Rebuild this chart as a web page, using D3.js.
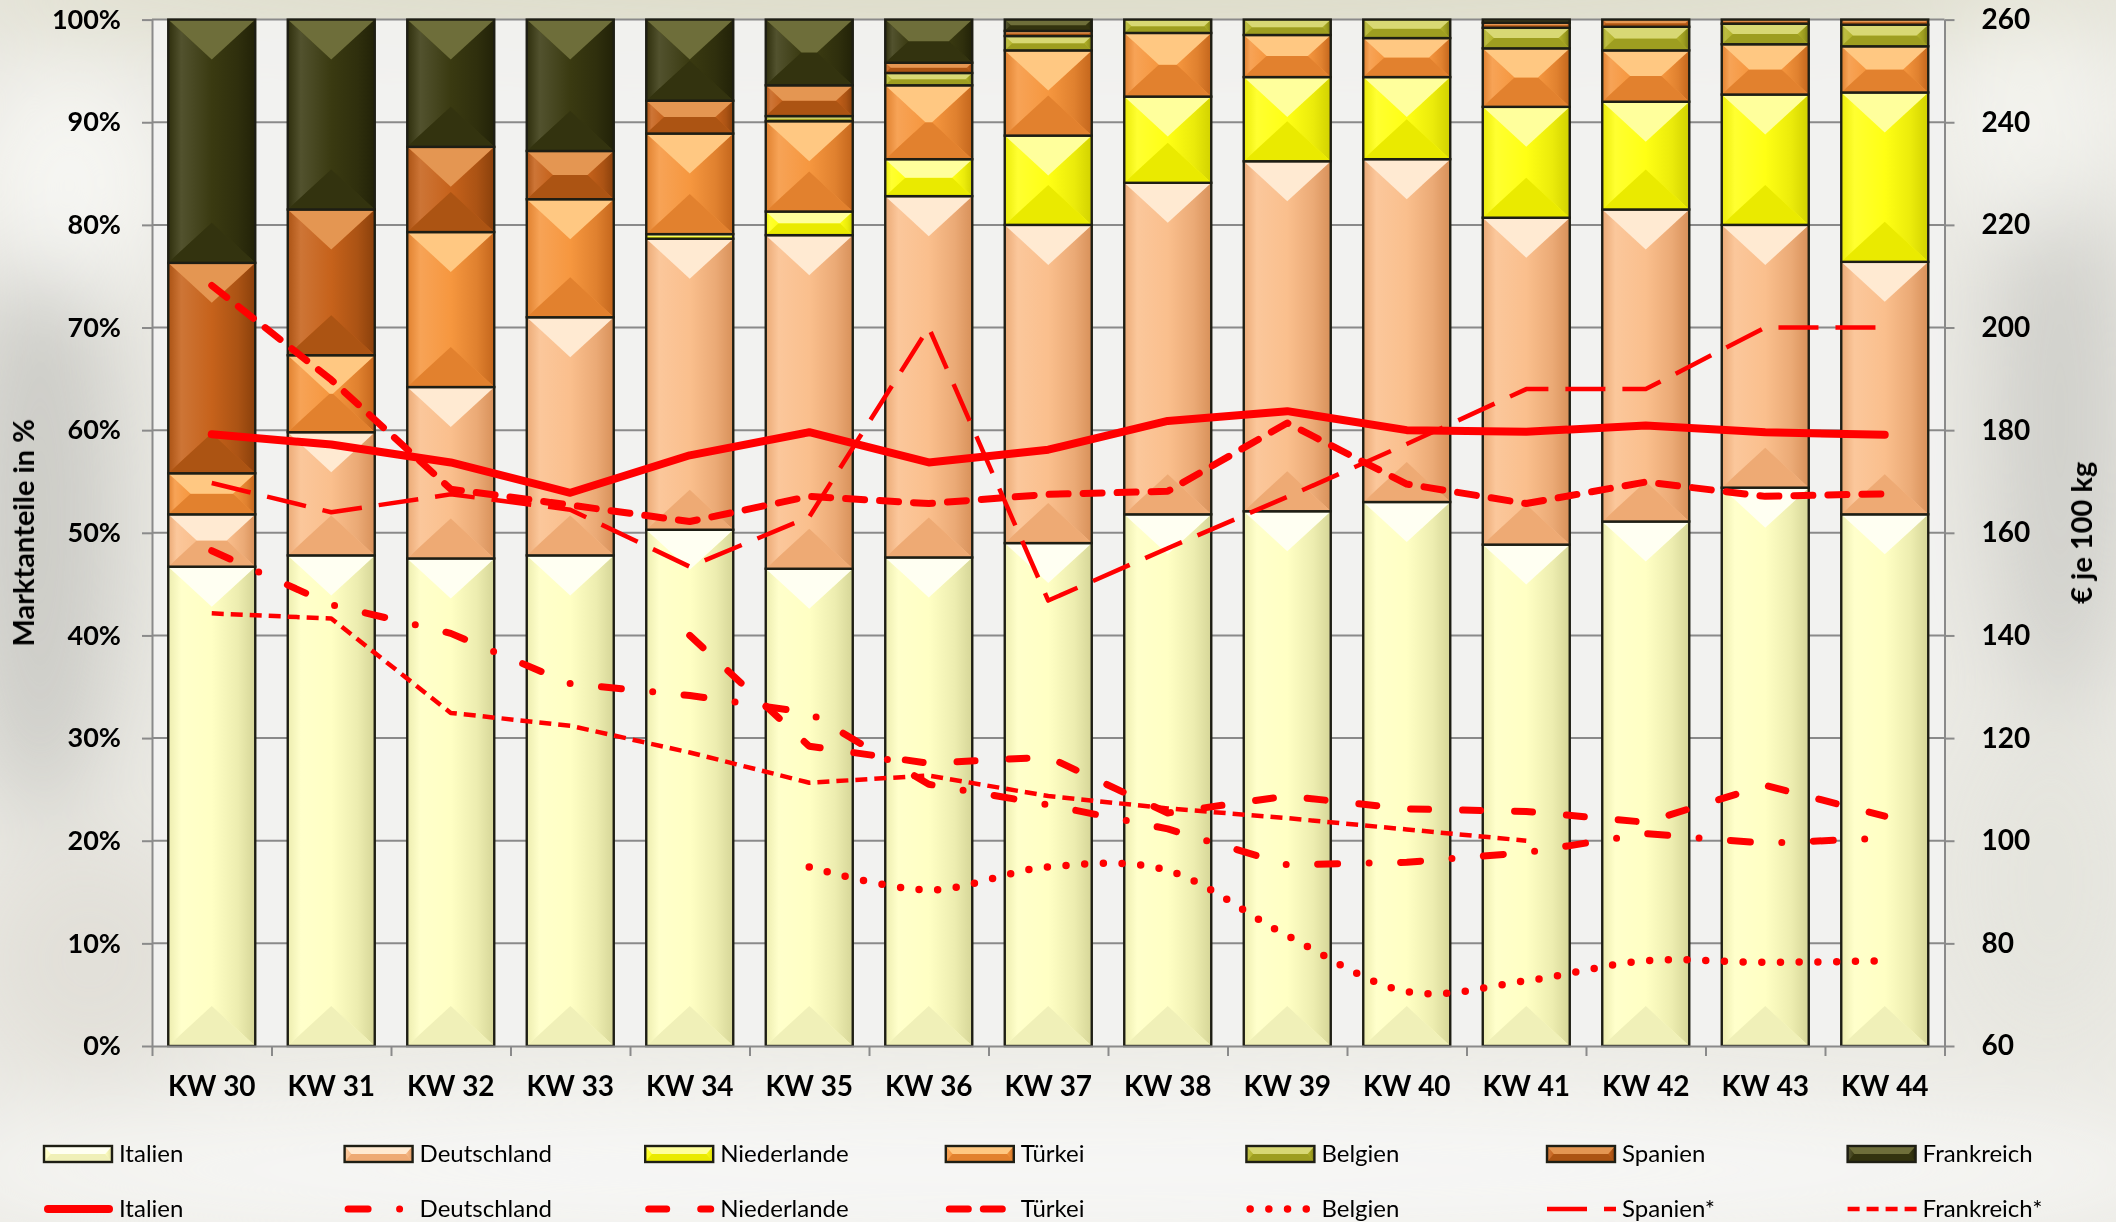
<!DOCTYPE html>
<html>
<head>
<meta charset="utf-8">
<script src="https://cdn.jsdelivr.net/npm/d3@7"></script>
<style>
  html, body { margin: 0; padding: 0; background: #ecebe6; }
  svg { display: block; }
  text { font-family: Lato, "Open Sans", "Noto Sans", sans-serif; fill: #000; }
</style>
</head>
<body>
<svg id="chart" width="2116" height="1222"></svg>
<script>
// ---- Data -------------------------------------------------------------
const weeks = ["KW 30", "KW 31", "KW 32", "KW 33", "KW 34", "KW 35", "KW 36", "KW 37",
               "KW 38", "KW 39", "KW 40", "KW 41", "KW 42", "KW 43", "KW 44"];

// market shares in % (stacked bars, bottom to top)
const italienShare     = [46.7, 47.8, 47.5, 47.8, 50.3, 46.5, 47.6, 49.0, 51.8, 52.1, 53.0, 48.85, 51.1, 54.4, 51.8];
const deutschlandShare = [5.1, 12.0, 16.7, 23.2, 28.35, 32.5, 35.2, 31.0, 32.3, 34.1, 33.4, 31.85, 30.4, 25.6, 24.6];
const niederlandeShare = [0, 0, 0, 0, 0.45, 2.3, 3.6, 8.7, 8.4, 8.2, 8.0, 10.8, 10.5, 12.7, 16.5];
const tuerkeiShare     = [4.0, 7.5, 15.1, 11.5, 9.8, 8.8, 7.2, 8.3, 6.2, 4.1, 3.8, 5.7, 5.0, 4.9, 4.5];
const belgienShare     = [0, 0, 0, 0, 0, 0.5, 1.2, 1.4, 1.3, 1.5, 1.8, 2.0, 2.3, 2.0, 2.1];
const spanienShare     = [20.5, 14.2, 8.3, 4.7, 3.2, 3.0, 1.0, 0.5, 0, 0, 0, 0.5, 0.7, 0.4, 0.5];
const frankreichShare  = [23.7, 18.5, 12.4, 12.8, 7.9, 6.4, 4.2, 1.1, 0, 0, 0, 0.3, 0, 0, 0];

// prices in € je 100 kg (right axis)
const italienPrice     = [179.2, 177.2, 173.7, 167.8, 175.1, 179.6, 173.7, 176.2, 181.8, 183.7, 180.0, 179.7, 180.9, 179.6, 179.1];
const deutschlandPrice = [156.5, 146.0, 140.4, 130.6, 128.3, 124.9, 111.0, 107.0, 102.3, 95.3, 95.8, 97.7, 101.4, 99.5, 100.5];
const niederlandePrice = [null, null, null, null, 140.0, 118.4, 115.1, 116.3, 105.4, 108.7, 106.2, 105.7, 103.6, 110.8, 104.8];
const tuerkeiPrice     = [208.2, 189.8, 168.5, 165.4, 162.2, 167.1, 165.7, 167.5, 168.1, 181.4, 169.5, 165.7, 169.9, 167.1, 167.6];
const belgienPrice     = [null, null, null, null, null, 94.9, 90.4, 94.9, 94.2, 81.5, 70.6, 72.7, 76.6, 76.3, 76.6];
const spanienPrice     = [169.7, 164.0, 167.5, 164.5, 153.4, 163.1, 200.0, 146.8, 157.0, 167.0, 177.3, 188.0, 188.0, 200.0, 200.0];
const frankreichPrice  = [144.3, 143.3, 124.9, 122.4, 117.2, 111.3, 112.7, 108.7, 106.3, 104.4, 102.2, 100.0, null, null, null];

const shareTicks = [0, 10, 20, 30, 40, 50, 60, 70, 80, 90, 100];
const priceTicks = [60, 80, 100, 120, 140, 160, 180, 200, 220, 240, 260];

const barSeries = ["Italien", "Deutschland", "Niederlande", "Türkei", "Belgien", "Spanien", "Frankreich"];
const barShares = [italienShare, deutschlandShare, niederlandeShare, tuerkeiShare, belgienShare, spanienShare, frankreichShare];
const lineSeries = ["Italien", "Deutschland", "Niederlande", "Türkei", "Belgien", "Spanien*", "Frankreich*"];
const linePrices = [italienPrice, deutschlandPrice, niederlandePrice, tuerkeiPrice, belgienPrice, spanienPrice, frankreichPrice];

// ---- Styles -----------------------------------------------------------
// base, edge (shaded side), top facet, bottom facet
const barColors = {
  "Italien":     { base: "#ffffc4", edge: "#d6d698", top: "#fffff2", bottom: "#f0f0b8" },
  "Deutschland": { base: "#fabf8d", edge: "#d8915a", top: "#ffead2", bottom: "#eeaa74" },
  "Niederlande": { base: "#ffff14", edge: "#d2d200", top: "#ffff9c", bottom: "#eaea00" },
  "Türkei":      { base: "#f6973f", edge: "#c4661c", top: "#ffc882", bottom: "#e2812e" },
  "Belgien":     { base: "#b4b42a", edge: "#7a7a12", top: "#d8d874", bottom: "#9e9e20" },
  "Spanien":     { base: "#c6621b", edge: "#8a400b", top: "#e49652", bottom: "#ac5413" },
  "Frankreich":  { base: "#3a3a11", edge: "#222208", top: "#6e6e3a", bottom: "#33330f" }
};
const red = "#ff0000";
const lineStyles = {
  "Italien":     { width: 8,   dash: null,              cap: "round", curve: d3.curveLinear },
  "Deutschland": { width: 7,   dash: "20,31.5,0,31.5",  cap: "round", curve: d3.curveLinear },
  "Niederlande": { width: 7,   dash: "18,34",           cap: "round", curve: d3.curveLinear },
  "Türkei":      { width: 7,   dash: "19,15",           cap: "round", curve: d3.curveLinear },
  "Belgien":     { width: 7.5, dash: "0,18.7",          cap: "round", curve: d3.curveCatmullRom.alpha(0) },
  "Spanien*":    { width: 4.5, dash: "40,17",           cap: "butt",  curve: d3.curveLinear },
  "Frankreich*": { width: 4.5, dash: "12,7",            cap: "butt",  curve: d3.curveLinear }
};

// ---- Layout -----------------------------------------------------------
const W = 2116, H = 1222;
const plot = { left: 152, right: 1944.5, top: 19.6, bottom: 1046 };

const svg = d3.select("#chart");
const defs = svg.append("defs");

// soft photographic backdrop
const blur = defs.append("filter").attr("id", "soft").attr("x", "-50%").attr("y", "-50%")
  .attr("width", "200%").attr("height", "200%");
blur.append("feGaussianBlur").attr("stdDeviation", 45);

svg.append("rect").attr("width", W).attr("height", H).attr("fill", "#ebeae4");
const bg = svg.append("g").attr("filter", "url(#soft)");
[
  { cx: 1050, cy: -10, rx: 1150, ry: 55, fill: "#d9d8c2", op: 0.9 },
  { cx: 40, cy: 520, rx: 80, ry: 300, fill: "#c4c4bf", op: 0.8 },
  { cx: 70, cy: 180, rx: 90, ry: 110, fill: "#f7f7f4", op: 0.9 },
  { cx: 90, cy: 960, rx: 120, ry: 120, fill: "#dedcd4", op: 0.7 },
  { cx: 2060, cy: 420, rx: 70, ry: 300, fill: "#c9c9c4", op: 0.8 },
  { cx: 2030, cy: 120, rx: 90, ry: 110, fill: "#f4f4f0", op: 0.9 },
  { cx: 2050, cy: 880, rx: 90, ry: 160, fill: "#e4e3dc", op: 0.8 },
  { cx: 1058, cy: 1170, rx: 1150, ry: 90, fill: "#f6f6f4", op: 1 }
].forEach(b => bg.append("ellipse").attr("cx", b.cx).attr("cy", b.cy).attr("rx", b.rx)
  .attr("ry", b.ry).attr("fill", b.fill).attr("opacity", b.op));

// ---- Scales -----------------------------------------------------------
const x = d3.scaleBand().domain(weeks).range([plot.left, plot.right])
  .paddingInner(0.272).paddingOuter(0.136);
const xEdge = d3.scaleLinear().domain([0, weeks.length]).range([plot.left, plot.right]);
const yL = d3.scaleLinear().domain([0, 100]).range([plot.bottom, plot.top]);
const yR = d3.scaleLinear().domain([60, 260]).range([plot.bottom, plot.top]);

// plot area
svg.append("rect").attr("x", plot.left).attr("y", plot.top)
  .attr("width", plot.right - plot.left).attr("height", plot.bottom - plot.top)
  .attr("fill", "#f3f3f1").attr("opacity", 0.88);

// gridlines
svg.append("g").selectAll("line").data(shareTicks.filter(t => t > 0)).join("line")
  .attr("x1", plot.left).attr("x2", plot.right)
  .attr("y1", d => yL(d)).attr("y2", d => yL(d))
  .attr("stroke", "#8a8a8a").attr("stroke-width", 2);

// ---- Bevelled stacked bars ---------------------------------------------
barSeries.forEach((name, i) => {
  const c = barColors[name];
  const lg = defs.append("linearGradient").attr("id", "lg" + i).attr("x1", 0).attr("x2", 1).attr("y1", 0).attr("y2", 0);
  lg.append("stop").attr("offset", 0).attr("stop-color", d3.interpolateRgb(c.base, c.edge)(0.45));
  lg.append("stop").attr("offset", 0.3).attr("stop-color", d3.interpolateRgb(c.base, "#fff")(0.12));
  lg.append("stop").attr("offset", 1).attr("stop-color", c.base);
  const rg = defs.append("linearGradient").attr("id", "rg" + i).attr("x1", 0).attr("x2", 1).attr("y1", 0).attr("y2", 0);
  rg.append("stop").attr("offset", 0).attr("stop-color", c.base);
  rg.append("stop").attr("offset", 0.6).attr("stop-color", d3.interpolateRgb(c.base, c.edge)(0.45));
  rg.append("stop").attr("offset", 1).attr("stop-color", c.edge);
});

function bevel(g, bx, by, bw, bh, idx, depthMax) {
  const c = barColors[barSeries[idx]];
  const dv = Math.min(depthMax, bh / 2);
  const dh = dv * (bw / 2) / depthMax;
  const pts = a => a.map(p => p.join(",")).join(" ");
  g.append("rect").attr("x", bx).attr("y", by).attr("width", bw).attr("height", bh).attr("fill", c.base);
  g.append("polygon").attr("points", pts([[bx, by], [bx + dh, by + dv], [bx + dh, by + bh - dv], [bx, by + bh]]))
    .attr("fill", `url(#lg${idx})`);
  g.append("polygon").attr("points", pts([[bx + bw, by], [bx + bw - dh, by + dv], [bx + bw - dh, by + bh - dv], [bx + bw, by + bh]]))
    .attr("fill", `url(#rg${idx})`);
  g.append("polygon").attr("points", pts([[bx, by + bh], [bx + bw, by + bh], [bx + bw - dh, by + bh - dv], [bx + dh, by + bh - dv]]))
    .attr("fill", c.bottom);
  g.append("polygon").attr("points", pts([[bx, by], [bx + bw, by], [bx + bw - dh, by + dv], [bx + dh, by + dv]]))
    .attr("fill", c.top);
  g.append("rect").attr("x", bx).attr("y", by).attr("width", bw).attr("height", bh)
    .attr("fill", "none").attr("stroke", "#1e1e14").attr("stroke-width", 2.4);
}

const rows = weeks.map((w, i) => {
  const r = { week: w };
  barSeries.forEach((s, k) => { r[s] = barShares[k][i]; });
  return r;
});
const stacked = d3.stack().keys(barSeries)(rows);

const barsG = svg.append("g");
stacked.forEach((layer, idx) => {
  layer.forEach(d => {
    const top = yL(d[1]), bot = yL(d[0]);
    const h = bot - top;
    if (h < 0.5) return;
    bevel(barsG, x(d.data.week), top, x.bandwidth(), h, idx, 40);
  });
});

// ---- Axes -------------------------------------------------------------
const axisColor = "#8a8a8a";
function styleAxis(g, size) {
  g.selectAll(".domain").attr("stroke", axisColor).attr("stroke-width", 2);
  g.selectAll(".tick line").attr("stroke", axisColor).attr("stroke-width", 2);
  g.selectAll("text").attr("font-size", size).attr("font-weight", 700).attr("fill", "#000");
}

const leftAxis = svg.append("g").attr("transform", `translate(${plot.left},0)`)
  .call(d3.axisLeft(yL).tickValues(shareTicks).tickFormat(d => d + "%").tickSize(10).tickPadding(21).tickSizeOuter(0));
styleAxis(leftAxis, 27);

const rightAxis = svg.append("g").attr("transform", `translate(${plot.right},0)`)
  .call(d3.axisRight(yR).tickValues(priceTicks).tickSize(10).tickPadding(27).tickSizeOuter(0));
styleAxis(rightAxis, 28);

const edgeAxis = svg.append("g").attr("transform", `translate(0,${plot.bottom})`)
  .call(d3.axisBottom(xEdge).tickValues(d3.range(0, weeks.length + 1)).tickFormat("").tickSize(10).tickSizeOuter(0));
styleAxis(edgeAxis, 26);

const catAxis = svg.append("g").attr("transform", `translate(0,${plot.bottom})`)
  .call(d3.axisBottom(x).tickSize(0).tickPadding(30));
catAxis.select(".domain").remove();
catAxis.selectAll("text").attr("font-size", 28).attr("font-weight", 700).attr("fill", "#000")
  .attr("y", 40).attr("dy", "0.35em");

// axis titles
svg.append("text").attr("transform", `translate(34,${(plot.top + plot.bottom) / 2}) rotate(-90)`)
  .attr("text-anchor", "middle").attr("font-size", 29).attr("font-weight", 700).text("Marktanteile in %");
svg.append("text").attr("transform", `translate(2092,${(plot.top + plot.bottom) / 2}) rotate(-90)`)
  .attr("text-anchor", "middle").attr("font-size", 29).attr("font-weight", 700).text("€ je 100 kg");

// ---- Price lines --------------------------------------------------------
const linesG = svg.append("g");
lineSeries.forEach((name, k) => {
  const st = lineStyles[name];
  const line = d3.line()
    .defined(v => v != null)
    .x((v, i) => x(weeks[i]) + x.bandwidth() / 2)
    .y(v => yR(v))
    .curve(st.curve);
  linesG.append("path").attr("d", line(linePrices[k]))
    .attr("fill", "none").attr("stroke", red).attr("stroke-width", st.width)
    .attr("stroke-linecap", st.cap).attr("stroke-linejoin", "round")
    .attr("stroke-dasharray", st.dash);
});

// ---- Legend -----------------------------------------------------------
const legX = d3.range(barSeries.length).map(i => 44 + i * 300.6);
const leg = svg.append("g");
barSeries.forEach((name, i) => {
  bevel(leg, legX[i], 1146, 68, 16, i, 40);
  leg.append("text").attr("x", legX[i] + 75).attr("y", 1154).attr("dy", "0.35em")
    .attr("font-size", 24).text(name);
});
lineSeries.forEach((name, i) => {
  const st = lineStyles[name];
  const x0 = legX[i];
  const off = st.cap === "round" ? st.width / 2 : 0;
  leg.append("line").attr("x1", x0 + off).attr("x2", x0 + 69 - off).attr("y1", 1209).attr("y2", 1209)
    .attr("stroke", red).attr("stroke-width", st.width).attr("stroke-linecap", st.cap)
    .attr("stroke-dasharray", st.dash);
  leg.append("text").attr("x", x0 + 75).attr("y", 1209).attr("dy", "0.35em")
    .attr("font-size", 24).text(name);
});
</script>
</body>
</html>
